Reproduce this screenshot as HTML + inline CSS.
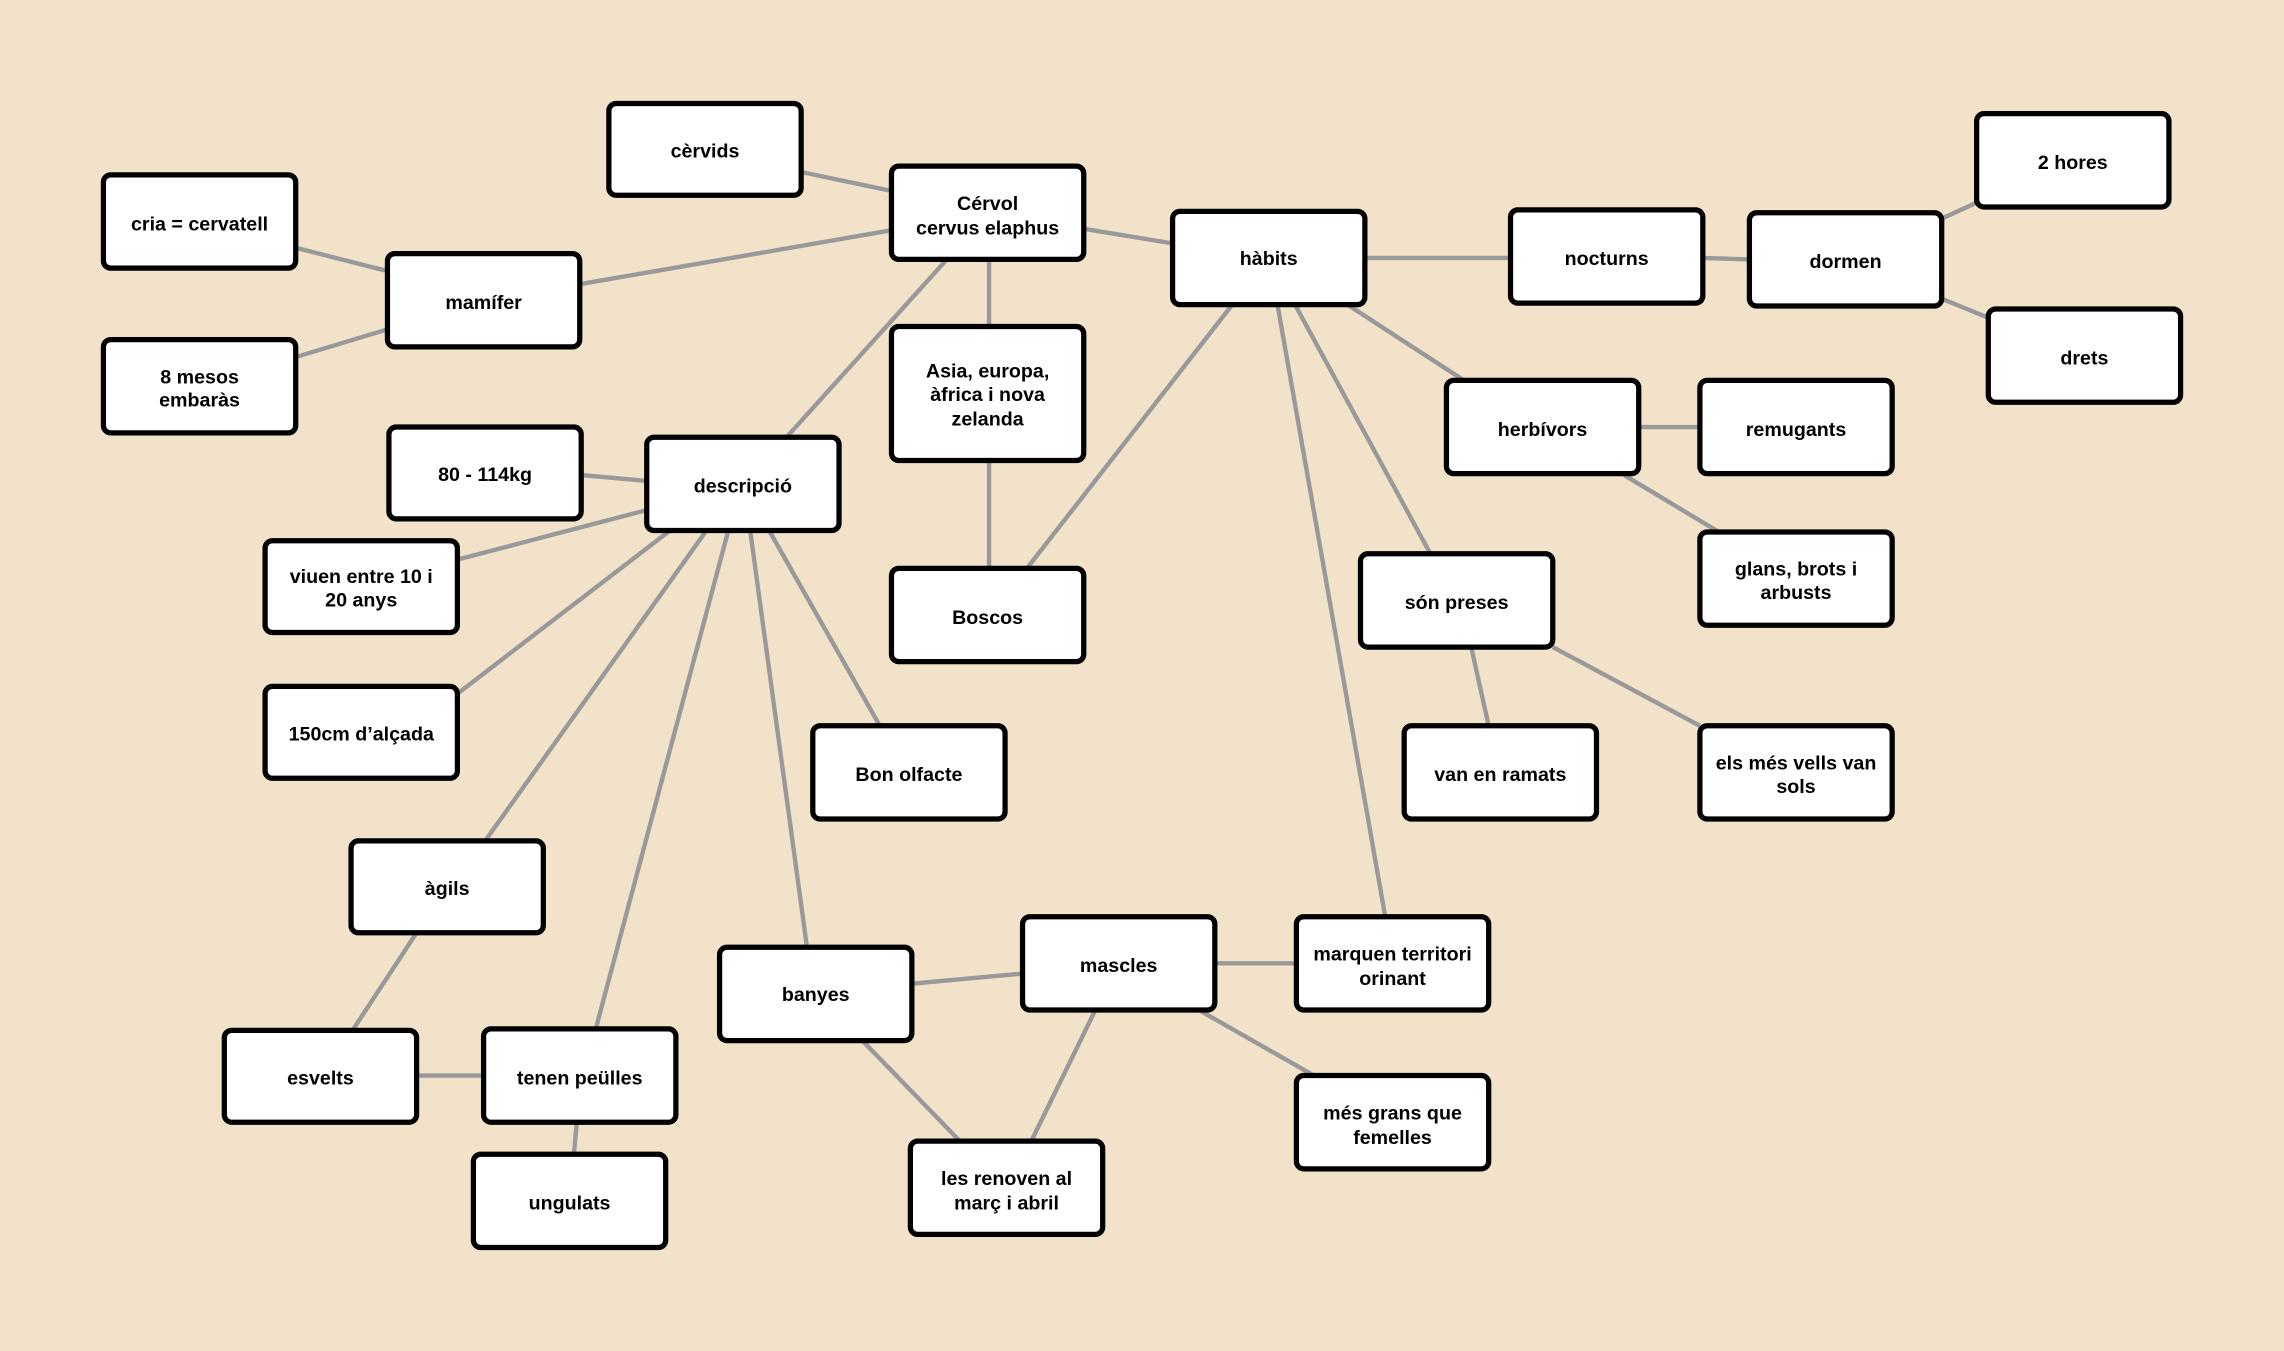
<!DOCTYPE html>
<html><head><meta charset="utf-8"><style>
html,body{margin:0;padding:0;background:#f2e2c9;}
svg{display:block}
text{font-family:"Liberation Sans",sans-serif;font-weight:bold;font-size:13.5px;fill:#000;text-anchor:middle}
</style></head><body>
<svg width="2284" height="1351" viewBox="0 0 1568 927" preserveAspectRatio="none">
<rect width="1568" height="927" fill="#f2e2c9"/>
<g stroke="#999" stroke-width="3" fill="none">
<line x1="550" y1="118" x2="612" y2="131"/>
<line x1="612" y1="158" x2="398" y2="195"/>
<line x1="744" y1="157" x2="805" y2="167"/>
<line x1="650" y1="178" x2="540" y2="300"/>
<line x1="679" y1="178" x2="679" y2="224"/>
<line x1="679" y1="316" x2="679" y2="390"/>
<line x1="846" y1="209" x2="705" y2="390"/>
<line x1="937" y1="177" x2="1037" y2="177"/>
<line x1="1169" y1="177" x2="1201" y2="178"/>
<line x1="1333" y1="150" x2="1357" y2="139"/>
<line x1="1333" y1="205" x2="1365" y2="218"/>
<line x1="925" y1="209" x2="1005" y2="261"/>
<line x1="889" y1="209" x2="982" y2="380"/>
<line x1="877" y1="209" x2="951" y2="629"/>
<line x1="1125" y1="293" x2="1167" y2="293"/>
<line x1="1115" y1="326" x2="1180" y2="365"/>
<line x1="1010" y1="444" x2="1022" y2="498"/>
<line x1="1066" y1="444" x2="1167" y2="498"/>
<line x1="203" y1="170" x2="266" y2="186"/>
<line x1="203" y1="245" x2="266" y2="226"/>
<line x1="399" y1="326" x2="444" y2="330"/>
<line x1="444" y1="350" x2="314" y2="384"/>
<line x1="460" y1="364" x2="314" y2="476"/>
<line x1="485" y1="364" x2="333" y2="577"/>
<line x1="500" y1="364" x2="409" y2="706"/>
<line x1="515" y1="364" x2="554" y2="650"/>
<line x1="528" y1="364" x2="604" y2="498"/>
<line x1="286" y1="640" x2="242" y2="707"/>
<line x1="286" y1="738" x2="332" y2="738"/>
<line x1="396" y1="770" x2="394" y2="792"/>
<line x1="626" y1="675" x2="702" y2="668"/>
<line x1="592" y1="714" x2="659" y2="783"/>
<line x1="752" y1="693" x2="708" y2="783"/>
<line x1="834" y1="661" x2="890" y2="661"/>
<line x1="823" y1="693" x2="902" y2="738"/>
</g>
<g fill="#fff" stroke="#000" stroke-width="3.6">
<rect x="418" y="71" width="132" height="63" rx="5"/>
<rect x="612" y="114" width="132" height="64" rx="5"/>
<rect x="805" y="145" width="132" height="64" rx="5"/>
<rect x="1037" y="144" width="132" height="64" rx="5"/>
<rect x="1201" y="146" width="132" height="64" rx="5"/>
<rect x="1357" y="78" width="132" height="64" rx="5"/>
<rect x="1365" y="212" width="132" height="64" rx="5"/>
<rect x="71" y="120" width="132" height="64" rx="5"/>
<rect x="266" y="174" width="132" height="64" rx="5"/>
<rect x="71" y="233" width="132" height="64" rx="5"/>
<rect x="612" y="224" width="132" height="92" rx="5"/>
<rect x="267" y="293" width="132" height="63" rx="5"/>
<rect x="444" y="300" width="132" height="64" rx="5"/>
<rect x="182" y="371" width="132" height="63" rx="5"/>
<rect x="612" y="390" width="132" height="64" rx="5"/>
<rect x="993" y="261" width="132" height="64" rx="5"/>
<rect x="1167" y="261" width="132" height="64" rx="5"/>
<rect x="1167" y="365" width="132" height="64" rx="5"/>
<rect x="934" y="380" width="132" height="64" rx="5"/>
<rect x="182" y="471" width="132" height="63" rx="5"/>
<rect x="558" y="498" width="132" height="64" rx="5"/>
<rect x="964" y="498" width="132" height="64" rx="5"/>
<rect x="1167" y="498" width="132" height="64" rx="5"/>
<rect x="241" y="577" width="132" height="63" rx="5"/>
<rect x="494" y="650" width="132" height="64" rx="5"/>
<rect x="702" y="629" width="132" height="64" rx="5"/>
<rect x="890" y="629" width="132" height="64" rx="5"/>
<rect x="154" y="707" width="132" height="63" rx="5"/>
<rect x="332" y="706" width="132" height="64" rx="5"/>
<rect x="325" y="792" width="132" height="64" rx="5"/>
<rect x="625" y="783" width="132" height="64" rx="5"/>
<rect x="890" y="738" width="132" height="64" rx="5"/>
</g>
<text x="484" y="108">cèrvids</text>
<text x="678" y="144">Cérvol</text>
<text x="678" y="161">cervus elaphus</text>
<text x="871" y="182">hàbits</text>
<text x="1103" y="182">nocturns</text>
<text x="1267" y="184">dormen</text>
<text x="1423" y="116">2 hores</text>
<text x="1431" y="250">drets</text>
<text x="137" y="158">cria = cervatell</text>
<text x="332" y="212">mamífer</text>
<text x="137" y="263">8 mesos</text>
<text x="137" y="279">embaràs</text>
<text x="678" y="259">Asia, europa,</text>
<text x="678" y="275">àfrica i nova</text>
<text x="678" y="292">zelanda</text>
<text x="333" y="330">80 - 114kg</text>
<text x="510" y="338">descripció</text>
<text x="248" y="400">viuen entre 10 i</text>
<text x="248" y="416">20 anys</text>
<text x="678" y="428">Boscos</text>
<text x="1059" y="299">herbívors</text>
<text x="1233" y="299">remugants</text>
<text x="1233" y="395">glans, brots i</text>
<text x="1233" y="411">arbusts</text>
<text x="1000" y="418">són preses</text>
<text x="248" y="508">150cm d’alçada</text>
<text x="624" y="536">Bon olfacte</text>
<text x="1030" y="536">van en ramats</text>
<text x="1233" y="528">els més vells van</text>
<text x="1233" y="544">sols</text>
<text x="307" y="614">àgils</text>
<text x="560" y="687">banyes</text>
<text x="768" y="667">mascles</text>
<text x="956" y="659">marquen territori</text>
<text x="956" y="676">orinant</text>
<text x="220" y="744">esvelts</text>
<text x="398" y="744">tenen peülles</text>
<text x="391" y="830">ungulats</text>
<text x="691" y="813">les renoven al</text>
<text x="691" y="830">març i abril</text>
<text x="956" y="768">més grans que</text>
<text x="956" y="785">femelles</text>
</svg>
</body></html>
